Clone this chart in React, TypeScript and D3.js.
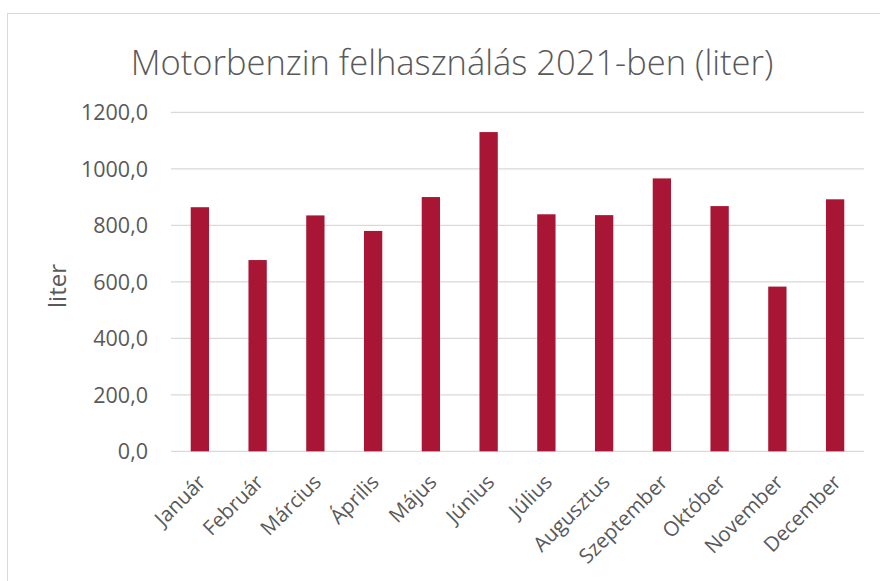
import React from "react";
import * as d3 from "d3";

const months = ["Január","Február","Március","Április","Május","Június","Július","Augusztus","Szeptember","Október","November","December"];
const values = [864, 677, 835, 780, 900, 1130, 839, 836, 966, 868, 583, 892];
const yTicks = [0, 200, 400, 600, 800, 1000, 1200];
const title = "Motorbenzin felhasználás 2021-ben (liter)";
const yTitle = "liter";

export default function App() {
  const W = 880, H = 581;
  const left = 171, right = 864, top = 112.3, bottom = 451.3;
  const x = d3.scaleBand<string>().domain(months).range([left, right]).paddingInner(0.683).paddingOuter(0.3415);
  const y = d3.scaleLinear().domain([0, 1200]).range([bottom, top]);
  const font = "'Open Sans', 'Noto Sans', sans-serif";
  const grey = "#595959";
  const fmt = (v: number) => d3.format(".1f")(v).replace(".", ",");
  return (
    <svg width={W} height={H} style={{ position: "absolute", left: 0, top: 0 }}>
      <rect x={0} y={0} width={W} height={H} fill="#fff" />
      <rect x={7.5} y={13.5} width={W} height={H} fill="#fff" stroke="#d9d9d9" strokeWidth={1} />
      <text x={452} y={75} textAnchor="middle" fontFamily={font} fontWeight={300} fontSize={34.5} fill={grey}>{title}</text>
      {yTicks.map(t => (
        <g key={t}>
          <line x1={left} x2={right} y1={y(t)} y2={y(t)} stroke="#d9d9d9" strokeWidth={1.3} />
          <text x={148} y={y(t)} dy="0.36em" textAnchor="end" fontFamily={font} fontSize={21.5} fill={grey}>{fmt(t)}</text>
        </g>
      ))}
      <text transform={`translate(66,286) rotate(-90)`} textAnchor="middle" fontFamily={font} fontSize={24} fill={grey}>{yTitle}</text>
      {months.map((m, i) => (
        <rect key={m} x={x(m)!} y={y(values[i])} width={x.bandwidth()} height={bottom - y(values[i])} fill="#A91535" />
      ))}
      {months.map(m => {
        const cx = x(m)! + x.bandwidth() / 2;
        return (
          <text key={m} transform={`translate(${cx - 3},${bottom + 22}) rotate(-45)`} textAnchor="end" dy="0.7em" fontFamily={font} fontSize={20.5} fill={grey}>{m}</text>
        );
      })}
    </svg>
  );
}
